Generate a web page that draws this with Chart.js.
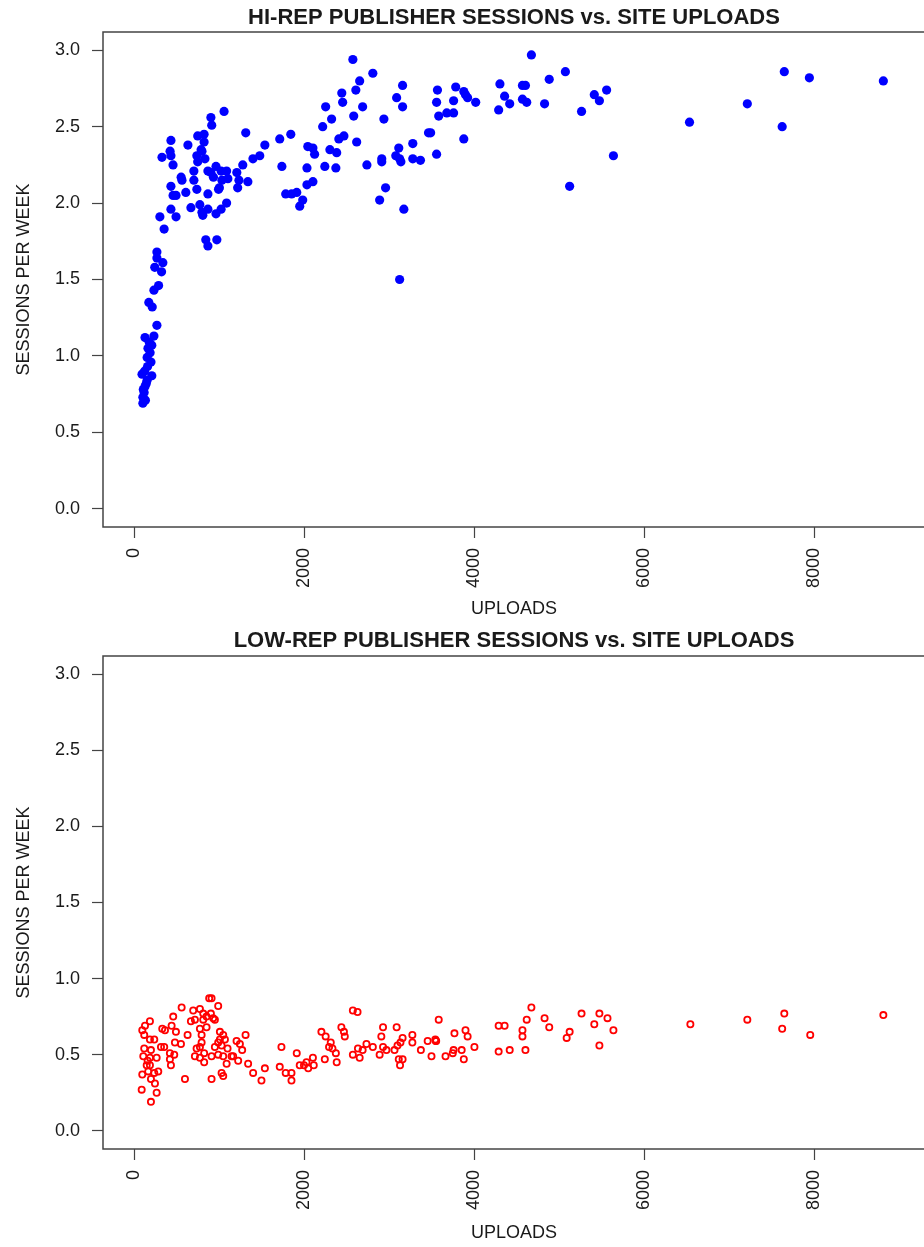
<!DOCTYPE html>
<html>
<head>
<meta charset="utf-8">
<script src="https://cdn.jsdelivr.net/npm/chart.js@4/dist/chart.umd.min.js"></script>
<style>
  html, body { margin: 0; padding: 0; background: #fff; width: 924px; height: 1247px; overflow: hidden; }
  #wrap { width: 924px; overflow: hidden; }
  canvas { display: block; }
</style>
</head>
<body>
<div id="wrap">
  <canvas id="hi" width="940" height="620"></canvas>
  <canvas id="lo" width="940" height="627"></canvas>
</div>
<script>
// ---------------- DATA ----------------
const hiTitle = "HI-REP PUBLISHER SESSIONS vs. SITE UPLOADS";
const loTitle = "LOW-REP PUBLISHER SESSIONS vs. SITE UPLOADS";
const xTitle = "UPLOADS";
const yTitle = "SESSIONS PER WEEK";
const xTickValues = [0, 2000, 4000, 6000, 8000];
const yTickValues = [0, 0.5, 1.0, 1.5, 2.0, 2.5, 3.0];

const hiUploads = [
  8810, 7940, 7645, 7620, 7210, 6530, 5635, 5555, 5470, 5410,
  5260, 5120, 5070, 4880, 4825, 4670, 4565, 4600, 4565, 4615,
  4300, 4355, 4415, 4285, 4015, 3920, 3895, 3875, 3780, 3755,
  3675, 3755, 3580, 3555, 3565, 3875, 3485, 3460, 3555, 3365,
  3275, 3275, 3170, 3120, 3155, 3085, 3155, 3110, 3075, 3120,
  3135, 2955, 2885, 2910, 2910, 2735, 2935, 2615, 2580, 2685,
  2605, 2650, 2805, 2570, 2440, 2450, 2250, 2320, 2215, 2465,
  2405, 2300, 2380, 2040, 2100, 2120, 2240, 2370, 2030, 1735,
  1840, 1710, 1535, 1475, 1395, 1275, 1310, 1055, 900, 910,
  1335, 2100, 2030, 1780, 1850, 1910, 1980, 1945,
  430, 630, 325, 420, 430, 455, 550, 560, 430, 455,
  490, 605, 300, 430, 490, 350, 745, 820, 820, 785,
  795, 735, 830, 745, 700, 865, 960, 930, 1020, 1030,
  1000, 990, 1205, 1230, 1215, 700, 735, 865, 1085, 665,
  770, 795, 805, 865, 960, 1020, 840, 865, 970, 1085,
  1100, 900,
  265, 265, 335, 240, 320, 285, 230, 170, 210, 265,
  125, 230, 205, 185, 195, 155, 90, 205, 150, 125,
  115, 100, 100, 160, 150, 120, 140, 105, 130, 175
];
const hiSessions = [
  2.80, 2.82, 2.86, 2.50, 2.65, 2.53, 2.31, 2.74, 2.67, 2.71,
  2.60, 2.11, 2.86, 2.81, 2.65, 2.97, 2.77, 2.77, 2.68, 2.66,
  2.78, 2.70, 2.65, 2.61, 2.66, 2.69, 2.71, 2.73, 2.76, 2.67,
  2.59, 2.59, 2.57, 2.66, 2.74, 2.42, 2.46, 2.46, 2.32, 2.28,
  2.29, 2.39, 1.96, 1.50, 2.77, 2.69, 2.63, 2.36, 2.31, 2.29,
  2.27, 2.10, 2.02, 2.29, 2.27, 2.25, 2.55, 2.40, 2.57, 2.63,
  2.74, 2.80, 2.85, 2.94, 2.72, 2.66, 2.63, 2.55, 2.50, 2.44,
  2.42, 2.35, 2.33, 2.37, 2.36, 2.32, 2.24, 2.23, 2.23, 2.24,
  2.45, 2.42, 2.38, 2.31, 2.29, 2.25, 2.46, 2.60, 2.56, 2.51,
  2.14, 2.14, 2.12, 2.06, 2.06, 2.07, 2.02, 1.98,
  2.41, 2.38, 2.30, 2.34, 2.31, 2.25, 2.17, 2.15, 2.11, 2.05,
  2.05, 2.07, 1.91, 1.96, 1.91, 1.83, 2.44, 2.45, 2.40, 2.35,
  2.34, 2.31, 2.29, 2.27, 2.21, 2.21, 2.24, 2.17, 2.21, 2.15,
  2.10, 2.09, 2.20, 2.15, 2.10, 2.15, 2.09, 2.06, 2.00, 1.97,
  1.99, 1.94, 1.92, 1.96, 1.93, 1.96, 1.76, 1.72, 1.76, 2.21,
  2.16, 2.20,
  1.68, 1.64, 1.61, 1.58, 1.55, 1.46, 1.43, 1.35, 1.32, 1.20,
  1.12, 1.13, 1.07, 1.02, 0.96, 0.93, 0.88, 0.87, 0.84, 0.80,
  0.76, 0.73, 0.69, 1.05, 0.99, 0.90, 0.82, 0.78, 0.71, 1.09
];

const loUploads = [
  8810, 7950, 7645, 7620, 7210, 6540, 5635, 5565, 5470, 5410,
  5470, 5260, 5120, 5085, 4880, 4825, 4670, 4615, 4565, 4565,
  4600, 4415, 4285, 4285, 4355, 4000, 3895, 3920, 3875, 3850,
  3755, 3745, 3765, 3660,
  3580, 3545, 3540, 3550, 3495, 3450, 3370, 3270, 3270, 3155,
  3130, 3095, 3155, 3110, 3125, 3085, 3060, 2925, 2905, 2925,
  2965, 2885, 2805, 2730, 2685, 2650, 2630, 2570, 2570, 2625,
  2200, 2250, 2240, 2310, 2290, 2330, 2370, 2380, 2435, 2465,
  2475, 2100, 2110, 2025, 2045, 1995, 1945, 1910,
  1730, 1710, 1780, 1848, 1848, 1535, 1495, 1397,
  880, 908, 986, 556, 457, 692, 771, 810, 900, 665,
  712, 810, 849, 927, 947, 771, 849, 1006, 1045, 1065,
  626, 489, 438, 328, 360, 183, 125, 93, 116, 183,
  234, 477, 548, 791, 791, 771, 732, 821, 313, 351,
  116, 195, 105, 183, 262, 418, 469, 418, 430, 712,
  771, 821, 947, 986, 1006, 1026, 1096, 1162, 1202, 1241,
  1268, 1308, 908, 986, 1045, 1085, 1143, 1221, 1338, 1026,
  1045, 908, 595, 93, 163, 234, 281, 195, 242, 86,
  262, 195, 156, 145, 183
];
const loSessions = [
  0.76, 0.63, 0.77, 0.67, 0.73, 0.70, 0.66, 0.74, 0.77, 0.70,
  0.56, 0.77, 0.65, 0.61, 0.68, 0.74, 0.81, 0.73, 0.66, 0.62,
  0.53, 0.53, 0.52, 0.69, 0.69, 0.55, 0.66, 0.62, 0.47, 0.53,
  0.53, 0.51, 0.64, 0.49,
  0.73, 0.59, 0.60, 0.59, 0.49, 0.59, 0.53, 0.63, 0.58, 0.61,
  0.58, 0.56, 0.47, 0.47, 0.43, 0.68, 0.53, 0.68, 0.62, 0.55,
  0.53, 0.50, 0.55, 0.57, 0.53, 0.48, 0.54, 0.50, 0.79, 0.78,
  0.65, 0.62, 0.47, 0.58, 0.55, 0.54, 0.51, 0.45, 0.68, 0.65,
  0.62, 0.48, 0.43, 0.45, 0.41, 0.43, 0.43, 0.51,
  0.55, 0.42, 0.38, 0.38, 0.33, 0.41, 0.33, 0.38,
  0.87, 0.87, 0.82, 0.81, 0.75, 0.79, 0.80, 0.77, 0.77, 0.72,
  0.73, 0.73, 0.75, 0.74, 0.73, 0.67, 0.68, 0.65, 0.63, 0.60,
  0.63, 0.65, 0.69, 0.67, 0.66, 0.72, 0.69, 0.66, 0.63, 0.60,
  0.60, 0.58, 0.57, 0.63, 0.58, 0.55, 0.54, 0.51, 0.55, 0.55,
  0.54, 0.53, 0.49, 0.48, 0.48, 0.51, 0.50, 0.47, 0.43, 0.49,
  0.48, 0.45, 0.55, 0.58, 0.60, 0.56, 0.54, 0.49, 0.59, 0.57,
  0.53, 0.63, 0.49, 0.50, 0.49, 0.44, 0.49, 0.46, 0.44, 0.38,
  0.36, 0.34, 0.34, 0.37, 0.39, 0.38, 0.39, 0.34, 0.31, 0.27,
  0.25, 0.19, 0.46, 0.43, 0.43
];

// ---------------- RENDERING ----------------
const FONT = "'Liberation Sans', Arial, Helvetica, sans-serif";
const TEXT = '#1a1a1a';
const AXIS = '#444444';

function toPoints(xs, ys) { return xs.map((x, i) => ({ x: x, y: ys[i] })); }

function makeChart(id, title, data, dsStyle, geom) {
  const textPlugin = {
    id: 'rtext',
    afterDraw(chart) {
      const ctx = chart.ctx, a = chart.chartArea;
      ctx.save();
      // box
      ctx.strokeStyle = AXIS;
      ctx.lineWidth = 1.5;
      ctx.strokeRect(a.left, a.top, a.right - a.left, a.bottom - a.top);
      const cx = (a.left + a.right) / 2;
      ctx.fillStyle = TEXT;
      ctx.textAlign = 'center';
      ctx.textBaseline = 'alphabetic';
      ctx.font = "bold 22px " + FONT;
      ctx.fillText(title, cx, geom.titleY);
      ctx.font = "18px " + FONT;
      ctx.fillText(xTitle, cx, geom.xTitleY);
      ctx.translate(geom.yTitleX, (a.top + a.bottom) / 2);
      ctx.rotate(-Math.PI / 2);
      ctx.fillText(yTitle, 0, 0);
      ctx.restore();
    }
  };
  return new Chart(document.getElementById(id), {
    type: 'scatter',
    data: { datasets: [Object.assign({ data: data }, dsStyle)] },
    options: {
      responsive: false,
      animation: false,
      events: [],
      layout: { padding: { top: geom.top, left: 0, right: 15, bottom: 0 } },
      plugins: { legend: { display: false }, tooltip: { enabled: false }, title: { display: false } },
      scales: {
        x: {
          type: 'linear', min: -369, max: 9300,
          afterBuildTicks: s => { s.ticks = xTickValues.map(v => ({ value: v })); },
          afterFit: s => { s.height = geom.xAxisH; },
          border: { display: false },
          grid: { drawOnChartArea: false, drawTicks: true, tickLength: 11, tickColor: AXIS, tickWidth: 1.2 },
          ticks: {
            minRotation: 90, maxRotation: 90, padding: 10, autoSkip: false,
            color: TEXT, font: { family: FONT, size: 18 },
            callback: v => String(v)
          }
        },
        y: {
          type: 'linear', min: -0.12, max: 3.12,
          afterBuildTicks: s => { s.ticks = yTickValues.map(v => ({ value: v })); },
          afterFit: s => { s.width = 103; },
          border: { display: false },
          grid: { drawOnChartArea: false, drawTicks: true, tickLength: 11, tickColor: AXIS, tickWidth: 1.2 },
          ticks: {
            padding: 12, autoSkip: false,
            color: TEXT, font: { family: FONT, size: 18 },
            callback: v => Number(v).toFixed(1)
          }
        }
      }
    },
    plugins: [textPlugin]
  });
}

makeChart('hi', hiTitle, toPoints(hiUploads, hiSessions), {
  pointStyle: 'circle', pointRadius: 4.6, pointBackgroundColor: '#0000FF',
  pointBorderWidth: 0, pointBorderColor: '#0000FF', showLine: false
}, { top: 32, xAxisH: 93, titleY: 24, xTitleY: 614, yTitleX: 29 });

makeChart('lo', loTitle, toPoints(loUploads, loSessions), {
  pointStyle: 'circle', pointRadius: 3.1, pointBackgroundColor: 'rgba(0,0,0,0)',
  pointBorderWidth: 1.8, pointBorderColor: '#FF0000', showLine: false
}, { top: 36, xAxisH: 98, titleY: 27, xTitleY: 618, yTitleX: 29 });
</script>
</body>
</html>
